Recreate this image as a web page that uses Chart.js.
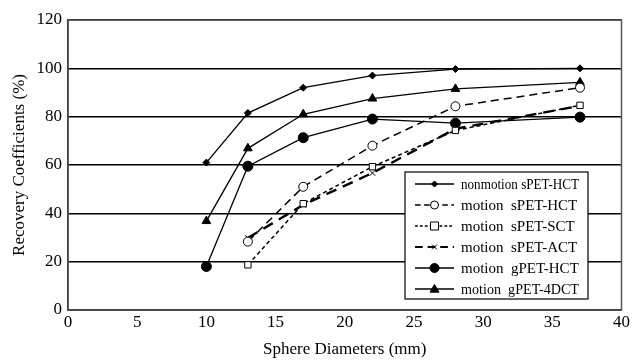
<!DOCTYPE html>
<html><head><meta charset="utf-8">
<script src="https://cdn.jsdelivr.net/npm/chart.js@4/dist/chart.umd.min.js"></script>
<style>html,body{margin:0;padding:0;background:#fff;}#wrap{width:632px;height:360px;}</style>
</head><body><div id="wrap"><canvas id="c" width="632" height="360"></canvas></div>
<script>
const diameters = [10, 13, 17, 22, 28, 37];
const seriesNames = ["nonmotion sPET-HCT","motion  sPET-HCT","motion  sPET-SCT","motion  sPET-ACT","motion  gPET-HCT","motion  gPET-4DCT"];
const nonmotionSPETHCT = [61, 81.5, 92, 97, 99.7, 100];
const motionSPETHCT    = [null, 28.3, 51, 68, 84.3, 92];
const motionSPETSCT    = [null, 18.7, 44, 59.3, 74.3, 84.7];
const motionSPETACT    = [null, 29.8, 43.5, 56.7, 75, 84.5];
const motionGPETHCT    = [18, 59.5, 71.3, 79, 77.3, 79.8];
const motionGPET4DCT   = [36.8, 66.9, 81, 87.5, 91.5, 94.2];
const xTicks = [0,5,10,15,20,25,30,35,40];
const yTicks = [0,20,40,60,80,100,120];

function pts(arr){ return diameters.map((d,i)=>({x:d,y:arr[i]})).filter(p=>p.y!==null); }

const styles = [
  {data:nonmotionSPETHCT, dash:[], width:1.3, marker:'diamond', r:3.5, fill:'#000'},
  {data:motionSPETHCT, dash:[8,5], width:1.5, marker:'circle', r:4.5, fill:'#fff'},
  {data:motionSPETSCT, dash:[4,3], width:1.5, marker:'square', r:4.5, fill:'#fff'},
  {data:motionSPETACT, dash:[11,7], width:2.4, marker:'x', r:4, fill:'#000'},
  {data:motionGPETHCT, dash:[], width:1.3, marker:'circle', r:5, fill:'#000'},
  {data:motionGPET4DCT, dash:[], width:1.3, marker:'triangle', r:5, fill:'#000'}
];
const psMap = {diamond:'rectRot', circle:'circle', square:'rect', x:'crossRot', triangle:'triangle'};

function drawMarker(ctx, m, x, y, r, fill){
  ctx.save(); ctx.setLineDash([]); ctx.lineWidth=1; ctx.strokeStyle='#000'; ctx.fillStyle=fill;
  ctx.beginPath();
  if(m==='diamond'){ctx.moveTo(x,y-r);ctx.lineTo(x+r,y);ctx.lineTo(x,y+r);ctx.lineTo(x-r,y);ctx.closePath();ctx.fill();ctx.stroke();}
  else if(m==='circle'){ctx.arc(x,y,r,0,Math.PI*2);ctx.fill();ctx.stroke();}
  else if(m==='square'){ctx.rect(x-r,y-r,2*r,2*r);ctx.fill();ctx.stroke();}
  else if(m==='triangle'){ctx.moveTo(x,y-r);ctx.lineTo(x+r,y+r*0.7);ctx.lineTo(x-r,y+r*0.7);ctx.closePath();ctx.fill();ctx.stroke();}
  else if(m==='x'){ctx.moveTo(x-r*0.7,y-r*0.7);ctx.lineTo(x+r*0.7,y+r*0.7);ctx.moveTo(x+r*0.7,y-r*0.7);ctx.lineTo(x-r*0.7,y+r*0.7);ctx.stroke();}
  ctx.restore();
}

const legendPlugin = {
  id:'boxLegend',
  afterDatasetsDraw(chart){
    const ctx = chart.ctx, a = chart.chartArea;
    ctx.save();
    ctx.strokeStyle='#555'; ctx.lineWidth=1.5; ctx.setLineDash([]);
    ctx.strokeRect(a.left, a.top, a.right-a.left, a.bottom-a.top);
    const bx=405, by=172, bw=183, bh=127;
    ctx.fillStyle='#fff'; ctx.fillRect(bx,by,bw,bh);
    ctx.strokeStyle='#000'; ctx.lineWidth=1.2; ctx.strokeRect(bx,by,bw,bh);
    ctx.font='15px "Liberation Serif"'; ctx.textBaseline='middle'; ctx.fillStyle='#000';
    styles.forEach((s,i)=>{
      const y = by+12+i*21;
      ctx.save(); ctx.strokeStyle='#000'; ctx.lineWidth=Math.min(s.width,2); ctx.setLineDash(s.dash.map(d=>d*0.7));
      ctx.beginPath(); ctx.moveTo(415,y); ctx.lineTo(454,y); ctx.stroke(); ctx.restore();
      drawMarker(ctx, s.marker, 434.5, y, s.r-0.5, s.fill);
      ctx.fillStyle='#000'; ctx.fillText(seriesNames[i], 461, y+1, 118);
    });
    ctx.restore();
  }
};

new Chart(document.getElementById('c'), {
  type:'line',
  data:{datasets: styles.map((s,i)=>({
    label: seriesNames[i], data: pts(s.data), borderColor:'#000', borderWidth:s.width,
    borderDash:s.dash, pointStyle:psMap[s.marker], pointRadius:s.r, pointBackgroundColor:s.fill,
    pointBorderColor:'#000', pointBorderWidth:1, tension:0, fill:false
  }))},
  options:{
    responsive:false, animation:false, devicePixelRatio:1,
    layout:{padding:{top:20,right:7,left:9,bottom:0}},
    plugins:{legend:{display:false}, tooltip:{enabled:false}},
    scales:{
      x:{type:'linear', min:0, max:40,
        afterBuildTicks(s){ s.ticks = xTicks.map(v=>({value:v})); },
        afterFit(s){ s.height = 50; },
        grid:{display:false, drawTicks:false}, border:{display:true,color:'#000',width:1.5},
        ticks:{color:'#000', font:{family:'Liberation Serif', size:17}, padding:2, maxRotation:0},
        title:{display:true, text:'Sphere Diameters (mm)', color:'#000', font:{family:'Liberation Serif', size:17}, padding:{top:2,bottom:0}}
      },
      y:{min:0, max:120,
        afterBuildTicks(s){ s.ticks = yTicks.map(v=>({value:v})); },
        afterFit(s){ s.width = 59; },
        grid:{color:'#000', lineWidth:1.5, drawTicks:false}, border:{display:true,color:'#000',width:1.5},
        ticks:{color:'#000', font:{family:'Liberation Serif', size:17}, padding:6},
        title:{display:true, text:'Recovery Coefficients (%)', color:'#000', font:{family:'Liberation Serif', size:17}, padding:{top:0,bottom:2}}
      }
    }
  },
  plugins:[legendPlugin]
});
</script></body></html>
